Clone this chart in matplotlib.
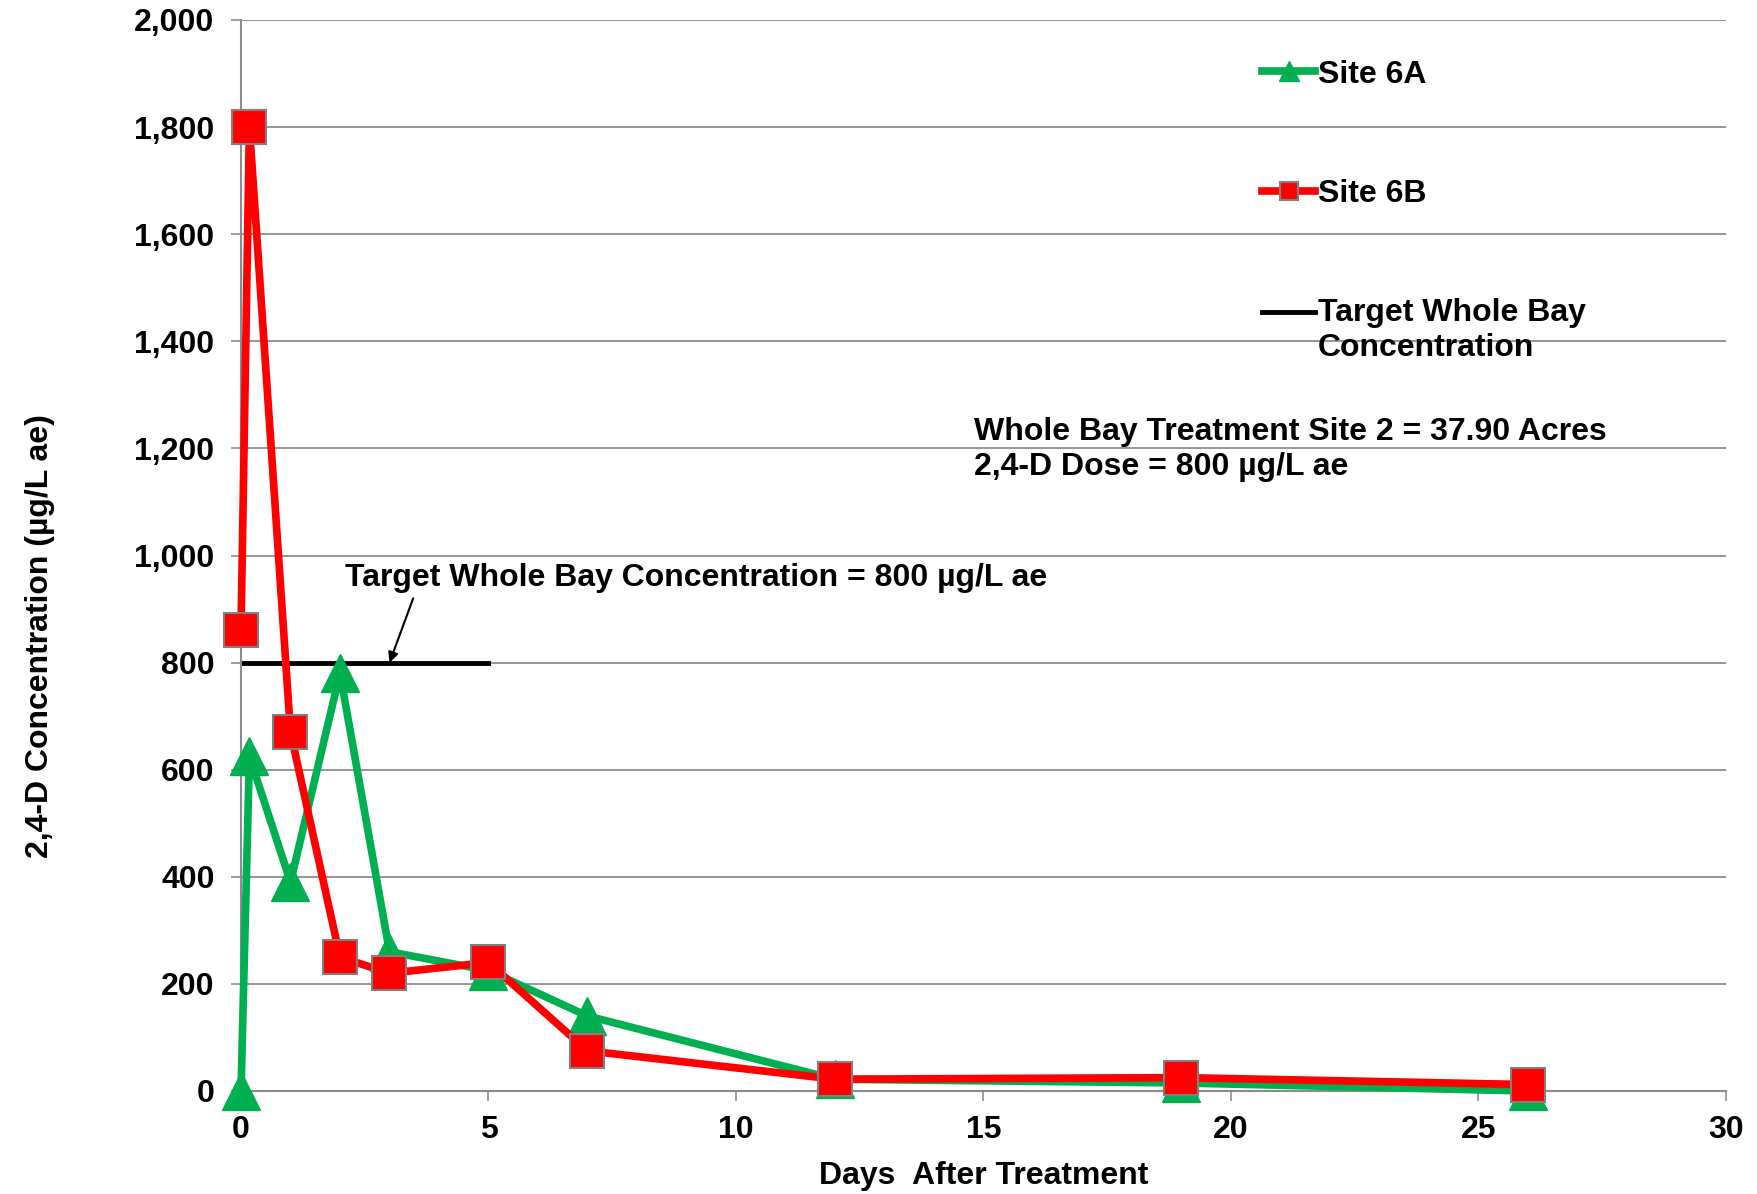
import matplotlib.pyplot as plt
from matplotlib.ticker import FuncFormatter
from matplotlib.legend_handler import HandlerLine2D

plt.rcParams['font.family'] = ['Liberation Sans', 'DejaVu Sans']
plt.rcParams['font.weight'] = 'bold'

# Datos
days_a = [0, 0.17, 1, 2, 3, 5, 7, 12, 19, 26]
site_6a = [0, 625, 390, 780, 260, 225, 140, 22, 15, 0]

days_b = [0, 0.17, 1, 2, 3, 5, 7, 12, 19, 26]
site_6b = [860, 1800, 670, 250, 220, 240, 75, 22, 25, 12]

target_days = [0, 5]
target_conc = [800, 800]

x_ticks = [0, 5, 10, 15, 20, 25, 30]
y_ticks = [0, 200, 400, 600, 800, 1000, 1200, 1400, 1600, 1800, 2000]

green = '#00B050'
red = '#FF0000'
grid_col = '#8C8C8C'
fs = 23


# la linea de la leyenda alineada con la primera linea del texto
class UpperLine(HandlerLine2D):
    def create_artists(self, legend, orig_handle, xdescent, ydescent,
                       width, height, fontsize, trans):
        arts = super().create_artists(legend, orig_handle, xdescent, ydescent,
                                      width, height, fontsize, trans)
        for a in arts:
            a.set_ydata([y + 0.6 * fontsize for y in a.get_ydata()])
        return arts


fig = plt.figure(figsize=(17.58, 11.94), dpi=100)
ax = fig.add_axes([241 / 1758, 1 - 1091 / 1194, (1726 - 241) / 1758, (1091 - 20) / 1194])

ax.plot(days_a, site_6a, color=green, lw=5.5, marker='^', ms=28,
        mfc=green, mec=green, label='Site 6A', zorder=3, clip_on=False)
ax.plot(days_b, site_6b, color=red, lw=5.5, marker='s', ms=25,
        mfc=red, mec='#808080', mew=1.5, label='Site 6B', zorder=4, clip_on=False)
target_line, = ax.plot(target_days, target_conc, color='black', lw=3.5,
                       label='Target Whole Bay\nConcentration', zorder=2)

ax.set_xlim(0, 30)
ax.set_ylim(0, 2000)
ax.set_xticks(x_ticks)
ax.set_yticks(y_ticks)
ax.yaxis.set_major_formatter(FuncFormatter(lambda v, p: f'{int(v):,}'))
ax.tick_params(labelsize=fs, length=7, color=grid_col, width=1.2)
ax.tick_params(axis='y', pad=12)
ax.tick_params(axis='x', pad=10)
for lab in ax.get_xticklabels() + ax.get_yticklabels():
    lab.set_fontweight('bold')

ax.grid(axis='y', color=grid_col, lw=1.3)
ax.set_axisbelow(True)
for s in ['top', 'right']:
    ax.spines[s].set_visible(False)
for s in ['left', 'bottom']:
    ax.spines[s].set_color(grid_col)
    ax.spines[s].set_linewidth(1.5)

ax.set_xlabel('Days  After Treatment', fontsize=fs, fontweight='bold', labelpad=12)
ax.set_ylabel('2,4-D Concentration (\u00b5g/L ae)', fontsize=23, fontweight='bold',
              labelpad=62)
ax.yaxis.set_label_coords(-0.125, 0.425)

ax.annotate('Target Whole Bay Concentration = 800 \u00b5g/L ae',
            xy=(3.0, 800), xytext=(2.1, 958), fontsize=fs, fontweight='bold',
            va='center', ha='left',
            arrowprops=dict(arrowstyle='-|>', color='black', lw=1.5,
                            shrinkA=2, shrinkB=0, mutation_scale=15,
                            relpos=(0.1, 0.0)))

ax.text(14.8, 1198, 'Whole Bay Treatment Site 2 = 37.90 Acres\n2,4-D Dose = 800 \u00b5g/L ae',
        fontsize=fs, fontweight='bold', va='center', ha='left', linespacing=1.2)

leg = ax.legend(loc='upper left', bbox_to_anchor=(0.677, 0.978), frameon=False,
                fontsize=fs, markerscale=0.5, handlelength=1.65, handletextpad=0.1,
                labelspacing=2.8, borderpad=0,
                handler_map={target_line: UpperLine()})
for t in leg.get_texts():
    t.set_fontweight('bold')

plt.savefig('out.png', dpi=100)
